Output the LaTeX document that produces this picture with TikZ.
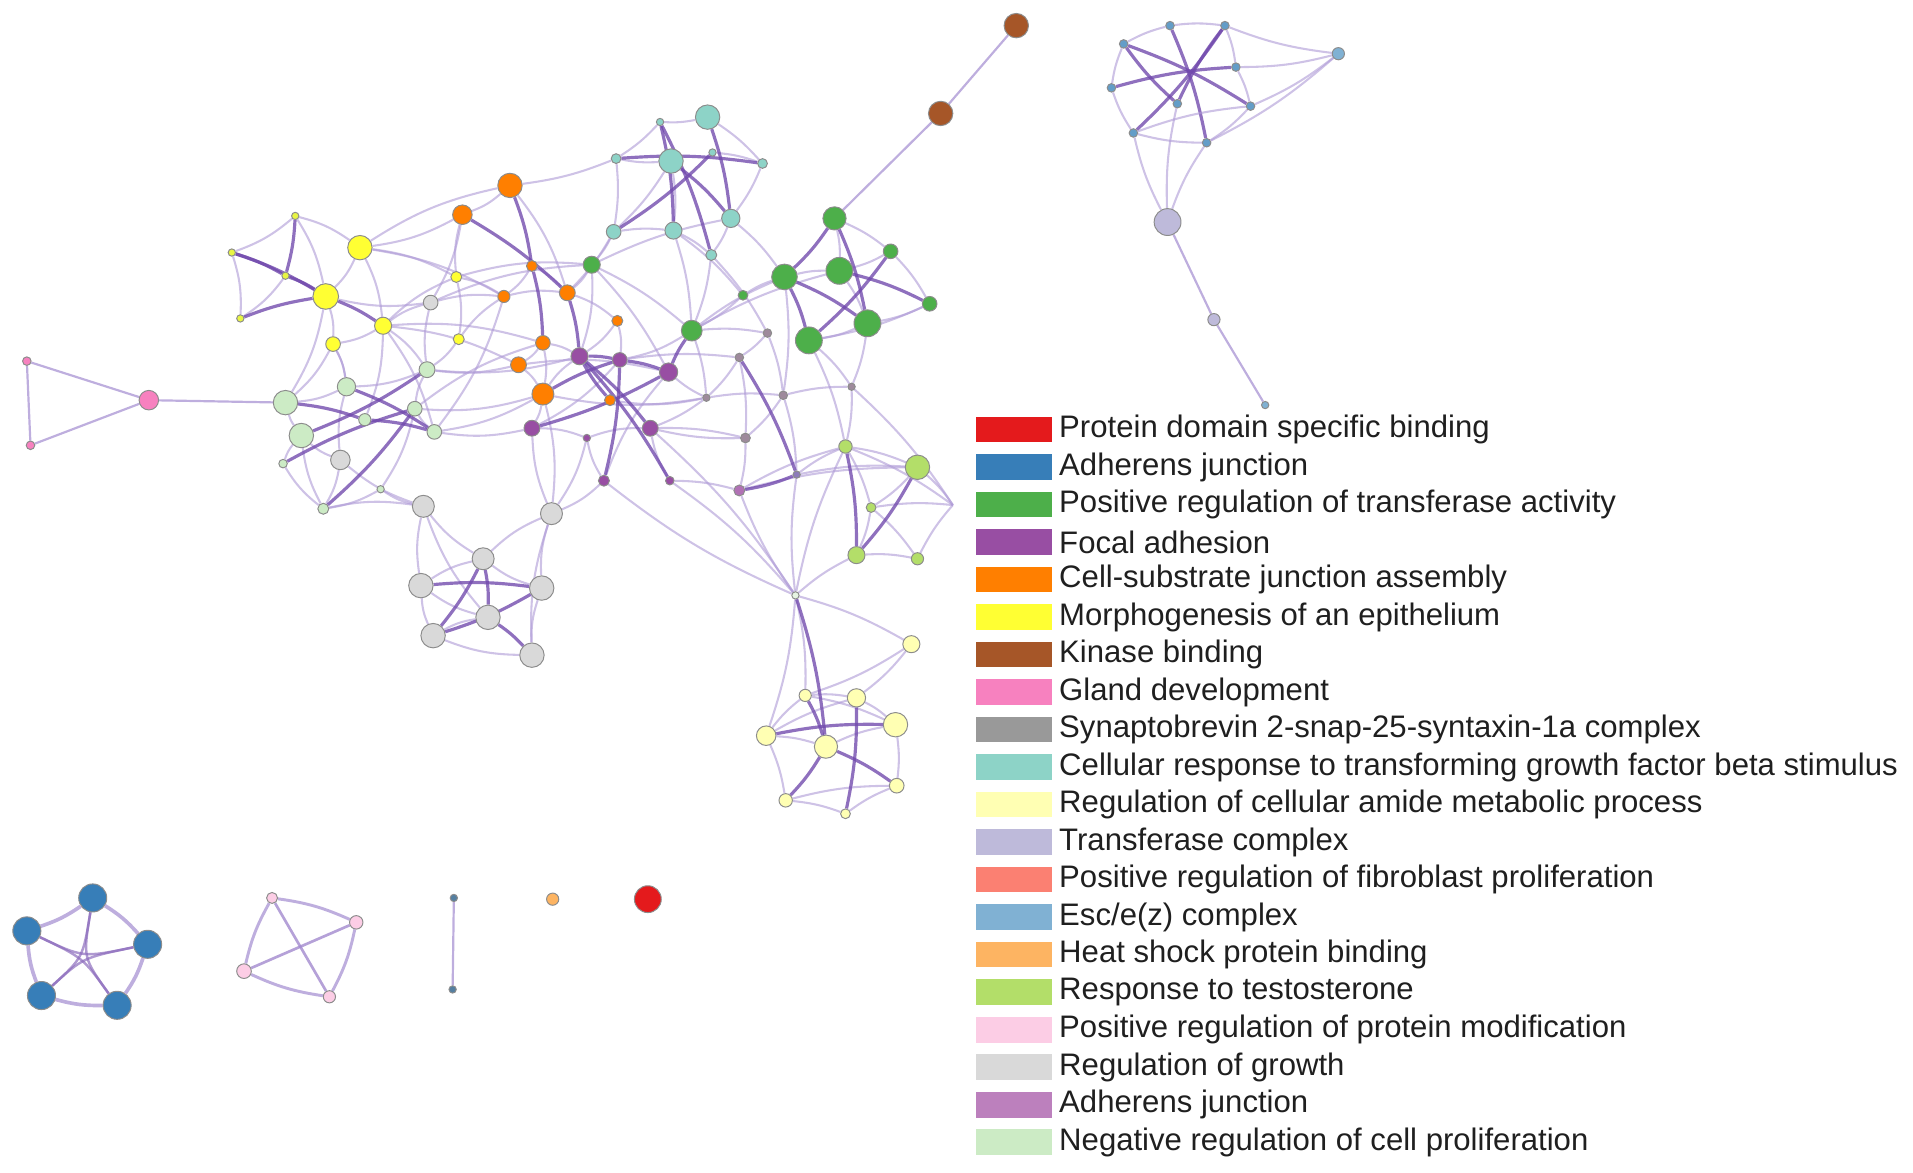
\documentclass[tikz,border=0pt]{standalone}
\usepackage{fontspec}
\setmainfont{Liberation Sans}
\usetikzlibrary{backgrounds}
\definecolor{cRed}{HTML}{E41A1C}
\definecolor{cBlue}{HTML}{377EB8}
\definecolor{cGreen}{HTML}{4DAF4A}
\definecolor{cPurple}{HTML}{984EA3}
\definecolor{cOrange}{HTML}{FF7F00}
\definecolor{cYellow}{HTML}{FFFF33}
\definecolor{cBrown}{HTML}{A65628}
\definecolor{cPink}{HTML}{F781BF}
\definecolor{cGray}{HTML}{999999}
\definecolor{cTeal}{HTML}{8DD3C7}
\definecolor{cLYellow}{HTML}{FFFFB3}
\definecolor{cLav}{HTML}{BEBADA}
\definecolor{cSalmon}{HTML}{FB8072}
\definecolor{cEsc}{HTML}{80B1D3}
\definecolor{cHeat}{HTML}{FDB462}
\definecolor{cLime}{HTML}{B3DE69}
\definecolor{cLPink}{HTML}{FCCDE5}
\definecolor{cLGray}{HTML}{D9D9D9}
\definecolor{cAdh}{HTML}{BC80BD}
\definecolor{cLGreen}{HTML}{CCEBC5}
\definecolor{cMauve}{HTML}{9E8A9C}
\definecolor{eThin}{HTML}{AE9AD6}
\definecolor{eThick}{HTML}{7048AC}
\newcommand\mknode[5]{\node[nd,fill=#2,minimum size=#3pt] (#1) at (#4,#5) {};}
\tikzset{
  nd/.style={circle,inner sep=0pt,draw=black!45,line width=0.8pt},
  eA/.style={draw=eThin,line width=1.7pt,opacity=0.6,bend left=10},
  eB/.style={draw=eThin,line width=1.7pt,opacity=0.6,bend right=10},
  eC/.style={draw=eThin,line width=1.7pt,opacity=0.6,bend left=7},
  eS/.style={draw=eThin,line width=1.8pt,opacity=0.8},
  eT/.style={draw=eThick,line width=2.6pt,opacity=0.78,bend left=6},
  sw/.style={rectangle,inner sep=0pt,minimum width=62pt,minimum height=21pt},
  lab/.style={anchor=west,inner sep=0pt,text=black!88,font=\fontsize{25.5}{30}\selectfont}
}
\begin{document}
\begin{tikzpicture}[x=1pt,y=-1pt]
\useasboundingbox (0,0) rectangle (1568,961);
% gland development
\mknode{p1}{cPink}{7}{22}{296}
\mknode{p2}{cPink}{7}{25}{365}
\mknode{p3}{cPink}{16}{122}{328}
% morphogenesis
\mknode{y1}{cYellow!70!cLime}{6}{242}{177}
\mknode{y2}{cYellow!70!cLime}{6}{190}{207}
\mknode{y3}{cYellow!70!cLime}{6}{234}{226}
\mknode{y4}{cYellow!70!cLime}{6}{197}{261}
\mknode{Y1}{cYellow}{20}{295}{203}
\mknode{Y2}{cYellow}{21}{267}{243}
\mknode{Y3}{cYellow}{14}{314}{267}
\mknode{Y4}{cYellow}{12}{273}{282}
\mknode{Y5}{cYellow}{9}{374}{227}
\mknode{Y6}{cYellow}{9}{376}{278}
% cell-substrate junction assembly
\mknode{O1}{cOrange}{20}{418}{152}
\mknode{O2}{cOrange}{16}{379}{176}
\mknode{O3}{cOrange}{9}{436}{218}
\mknode{O4}{cOrange}{10}{413}{243}
\mknode{O5}{cOrange}{13}{465}{240}
\mknode{O6}{cOrange}{9}{506}{263}
\mknode{O7}{cOrange}{12}{445}{281}
\mknode{O8}{cOrange}{13}{425}{299}
\mknode{O9}{cOrange}{18}{445}{323}
\mknode{O10}{cOrange}{9}{500}{328}
% focal adhesion
\mknode{P1}{cPurple}{14}{475}{292}
\mknode{P2}{cPurple}{12}{508}{295}
\mknode{P3}{cPurple}{15}{548}{305}
\mknode{P4}{cPurple}{13}{436}{351}
\mknode{P5}{cPurple}{13}{533}{351}
\mknode{P6}{cPurple}{6}{481}{359}
\mknode{P7}{cPurple}{9}{495}{394}
\mknode{P8}{cPurple}{7}{549}{394}
% regulation of growth
\mknode{G0}{cLGray}{12}{353}{248}
\mknode{G1}{cLGray}{16}{279}{377}
\mknode{G2}{cLGray}{18}{347}{415}
\mknode{G3}{cLGray}{18}{452}{421}
\mknode{G4}{cLGray}{18}{396}{458}
\mknode{G5}{cLGray}{20}{345}{480}
\mknode{G6}{cLGray}{20}{444}{482}
\mknode{G7}{cLGray}{20}{400}{506}
\mknode{G8}{cLGray}{20}{355}{521}
\mknode{G9}{cLGray}{20}{436}{537}
% negative regulation of cell proliferation
\mknode{L1}{cLGreen}{20}{234}{330}
\mknode{L2}{cLGreen}{15}{284}{317}
\mknode{L3}{cLGreen}{13}{350}{303}
\mknode{L4}{cLGreen}{20}{247}{357}
\mknode{L5}{cLGreen}{10}{299}{344}
\mknode{L6}{cLGreen}{12}{340}{335}
\mknode{L7}{cLGreen}{12}{356}{354}
\mknode{L8}{cLGreen}{9}{265}{417}
\mknode{L9}{cLGreen}{7}{232}{380}
\mknode{L10}{cLGreen}{6}{312}{401}
% TGF beta
\mknode{T1}{cTeal}{20}{580}{96}
\mknode{T2}{cTeal}{20}{550}{132}
\mknode{T3}{cTeal}{6}{541}{100}
\mknode{T4}{cTeal}{6}{584}{125}
\mknode{T5}{cTeal}{8}{505}{130}
\mknode{T6}{cTeal}{8}{625}{134}
\mknode{T7}{cTeal}{12}{503}{190}
\mknode{T8}{cTeal}{14}{552}{189}
\mknode{T9}{cTeal}{15}{599}{179}
\mknode{T10}{cTeal}{9}{583}{209}
% transferase activity
\mknode{N1}{cGreen}{19}{684}{179}
\mknode{N2}{cGreen}{14}{485}{217}
\mknode{N3}{cGreen}{12}{730}{206}
\mknode{N4}{cGreen}{21}{643}{227}
\mknode{N5}{cGreen}{22}{688}{222}
\mknode{N6}{cGreen}{12}{762}{249}
\mknode{N7}{cGreen}{8}{609}{242}
\mknode{N8}{cGreen}{17}{567}{271}
\mknode{N9}{cGreen}{22}{711}{265}
\mknode{N10}{cGreen}{22}{663}{279}
% synaptobrevin etc.
\mknode{M1}{cMauve}{7}{629}{273}
\mknode{M2}{cMauve}{7}{606}{293}
\mknode{M3}{cMauve}{6}{579}{326}
\mknode{M4}{cMauve}{7}{642}{324}
\mknode{M5}{cMauve}{6}{698}{317}
\mknode{M6}{cMauve}{8}{611}{359}
\mknode{Q1}{cPurple!55!cEsc}{6}{653}{389}
\mknode{Q2}{cAdh!70!cPurple}{9}{606}{402}
% response to testosterone
\mknode{K1}{cLime}{11}{693}{366}
\mknode{K2}{cLime}{20}{752}{383}
\mknode{K3}{cLime}{8}{714}{416}
\mknode{K4}{cLime}{14}{702}{455}
\mknode{K5}{cLime}{10}{752}{458}
\coordinate (Kx) at (781,414);
\mknode{H}{cLGreen!50!white}{6}{652}{488}
% amide metabolic process
\mknode{W1}{cLYellow}{14}{747}{528}
\mknode{W2}{cLYellow}{10}{660}{570}
\mknode{W3}{cLYellow}{15}{702}{572}
\mknode{W4}{cLYellow}{20}{734}{594}
\mknode{W5}{cLYellow}{16}{628}{603}
\mknode{W6}{cLYellow}{19}{677}{612}
\mknode{W7}{cLYellow}{12}{735}{644}
\mknode{W8}{cLYellow}{11}{644}{656}
\mknode{W9}{cLYellow}{8}{693}{667}
% kinase binding
\mknode{B1}{cBrown}{20}{833}{21}
\mknode{B2}{cBrown}{20}{771}{93}
% top right cluster
\mknode{A1}{cEsc!60!cBlue}{7}{959}{21}
\mknode{A2}{cEsc!60!cBlue}{7}{1004}{21}
\mknode{A8}{cEsc!60!cBlue}{7}{921}{36}
\mknode{A3}{cEsc!60!cBlue}{7}{1013}{55}
\mknode{A7}{cEsc!60!cBlue}{7}{911}{72}
\mknode{A9}{cEsc!60!cBlue}{7}{965}{85}
\mknode{A4}{cEsc!60!cBlue}{7}{1025}{87}
\mknode{A6}{cEsc!60!cBlue}{7}{929}{109}
\mknode{A5}{cEsc!60!cBlue}{7}{989}{117}
\mknode{A10}{cEsc}{10}{1097}{44}
\mknode{X1}{cLav}{22}{957}{182}
\mknode{X2}{cLav}{10}{995}{262}
\mknode{X3}{cEsc}{6}{1037}{332}
% bottom components
\mknode{D1}{cBlue}{23}{76}{736}
\mknode{D2}{cBlue}{23}{22}{763}
\mknode{D3}{cBlue}{23}{121}{774}
\mknode{D4}{cBlue}{23}{34}{816}
\mknode{D5}{cBlue}{23}{96}{824}
\coordinate (Dc) at (68,785);
\mknode{F1}{cLPink}{9}{223}{736}
\mknode{F2}{cLPink}{11}{292}{756}
\mknode{F3}{cLPink}{12}{200}{796}
\mknode{F4}{cLPink}{10}{270}{817}
\mknode{Z1}{cBlue!60!gray}{6}{372}{736}
\mknode{Z2}{cBlue!60!gray}{6}{371}{811}
\mknode{hs}{cHeat}{10}{453}{737}
\mknode{R}{cRed}{22}{531}{737}

\begin{scope}[on background layer]
\foreach \a/\b in {y1/y2,y2/y4,y1/Y1,y1/Y2,Y1/Y2,Y1/Y3,Y3/Y4,Y2/Y4,Y1/Y5,Y3/Y5,Y5/Y6,Y4/L2,Y3/L3,Y3/G0,Y5/O2,Y6/O4,Y5/O4,Y2/L1,y3/y4,
  O1/O2,O1/O5,O3/O4,O3/O5,O4/O5,O7/O8,O8/O9,O7/O9,O6/P1,O7/P1,O9/P1,O8/P3,O6/P2,O2/Y1,Y1/O4,N2/O5,O5/O6,G0/Y2,G0/O4,Y6/L3,O2/G0,Y3/O8,
  Y5/N2,G0/N2,Y3/O7,L6/O7,Y1/O1}
  \draw[eA] (\a) to (\b);
\foreach \a/\b in {P4/P2,P5/P6,P3/P7,P5/P8,P6/P7,P4/G3,P1/N2,P2/N8,P4/O9,P6/P4,
  G4/G5,G4/G6,G5/G8,G6/G9,G7/G8,G2/G4,G2/G5,G2/G7,G3/G4,G3/G6,G3/G9,G1/G2,G2/L8,G3/O9,G0/L3,G8/G9,G5/G7,
  L1/L2,L1/L4,L2/L3,L3/L6,L6/L7,L4/L8,L4/L9,L8/L10,L9/L8,L10/L6,L2/G1,L4/G1,L8/G1,L1/Y4,L2/Y4,L3/O8,L7/O9,L6/O9,L10/G2,L7/Y3,L5/Y3,G3/P7,L7/O4,
  L3/P1,L7/P4,G3/P6,O9/M3,O10/M3}
  \draw[eB] (\a) to (\b);
\foreach \a/\b in {T1/T3,T1/T6,T3/T5,T5/T7,T7/T8,T8/T10,T9/T10,T6/T9,T2/T7,T2/T5,T7/N2,T8/N7,T9/N4,T10/N8,T7/O5,T5/O1,T4/T6,T2/T8,
  N1/N5,N1/N3,N3/N5,N3/N6,N5/N9,N6/N9,N9/N10,N7/N4,N7/N8,N8/N4,N8/N5,N2/N8,N8/M1,N4/M4,N9/M5,N10/M5,N4/N5,N6/N10,
  M1/M2,M2/M3,M3/M4,M4/M5,M1/M4,M2/M6,M4/M6,M3/P3,M3/P5,M5/K1,M6/Q2,Q2/K2,Q2/K1,P8/Q2,M4/Q1,M6/P5,
  K1/K2,K1/K3,K2/K3,K3/K4,K3/K5,K4/K5,K2/Kx,K5/Kx,K1/Kx,K3/Kx,Q1/K1,Q1/K2,H/K4,H/K1,M5/Kx,
  H/P7,H/Q1,H/Q2,H/W1,H/W2,H/W5,P8/H,P5/H,
  W2/W3,W3/W4,W5/W6,W5/W8,W8/W9,W9/W7,W4/W7,W1/W2,W1/W3,W5/W2,W6/W4,W2/W4,W8/W7,W5/W3,
  N2/P3,P5/M6,N10/K1,N8/M3,T10/M1,N2/T9,T8/N8,P2/M2}
  \draw[eC] (\a) to (\b);
\foreach \a/\b in {y1/y3,y2/y3,y2/Y2,y4/Y2,Y2/Y3,y3/Y2,
  O1/O3,O2/O5,O5/P1,O9/P2,O10/P1,O3/O7,
  P1/P2,P1/P5,P2/P3,P3/P4,P2/P7,P1/P8,
  G4/G7,G5/G6,G4/G8,G7/G9,G6/G8,
  L2/L7,L3/L4,L5/L7,L6/L8,L9/L6,L1/L5,
  T3/T8,T1/T9,T4/T7,T5/T6,T2/T9,T3/T10,
  N1/N4,N1/N9,N4/N10,N5/N6,N3/N10,N4/N9,
  M2/Q1,Q1/Q2,P3/N8,K1/K4,K2/K4,
  H/W6,W2/W6,W3/W9,W5/W4,W6/W8,W6/W7,
  A1/A5,A2/A6,A8/A4,A7/A3,A9/A2,A9/A8}
  \draw[eT] (\a) to (\b);
\foreach \a/\b in {A1/A2,A2/A3,A3/A4,A4/A5,A5/A6,A6/A7,A7/A8,A8/A1,A6/A4,A10/A2,A10/A3,A10/A4,A10/A5,X1/A6,X1/A5,X1/A9}
  \draw[eC] (\a) to (\b);
\foreach \a/\b in {p1/p2,p1/p3,p2/p3,p3/L1,B1/B2,B2/N1,X1/X2,X2/X3,Z1/Z2}
  \draw[eS] (\a) -- (\b);
% blue pentagon
\foreach \a/\b in {D1/D2,D1/D3,D3/D5,D5/D4,D4/D2}
  \draw[draw=eThin,line width=3pt,opacity=0.8] (\a) to[bend left=8] (\b);
\foreach \a/\b in {D1/D4,D1/D5,D2/D3,D2/D5,D3/D4}
  \draw[draw=eThick!80,line width=2pt,opacity=0.7] (\a) .. controls (Dc) .. (\b);
% light pink quad
\foreach \a/\b in {F1/F2,F2/F4,F4/F3,F3/F1}
  \draw[draw=eThin,line width=2.4pt,opacity=0.8] (\a) to[bend left=8] (\b);
\foreach \a/\b in {F1/F4,F3/F2}
  \draw[draw=eThin!80!eThick,line width=2.2pt,opacity=0.8] (\a) -- (\b);
\end{scope}

% legend
\node[sw,fill=cRed] (s1) at (831,352.0) {};
\node[lab] (l1) at (868,352.0) {Protein domain specific binding};
\node[sw,fill=cBlue] (s2) at (831,382.75) {};
\node[lab] (l2) at (868,382.75) {Adherens junction};
\node[sw,fill=cGreen] (s3) at (831,413.5) {};
\node[lab] (l3) at (868,413.5) {Positive regulation of transferase activity};
\node[sw,fill=cPurple] (s4) at (831,444.25) {};
\node[lab] (l4) at (868,444.25) {Focal adhesion};
\node[sw,fill=cOrange] (s5) at (831,475.0) {};
\node[lab] (l5) at (868,475.0) {Cell-substrate junction assembly};
\node[sw,fill=cYellow] (s6) at (831,505.75) {};
\node[lab] (l6) at (868,505.75) {Morphogenesis of an epithelium};
\node[sw,fill=cBrown] (s7) at (831,536.5) {};
\node[lab] (l7) at (868,536.5) {Kinase binding};
\node[sw,fill=cPink] (s8) at (831,567.25) {};
\node[lab] (l8) at (868,567.25) {Gland development};
\node[sw,fill=cGray] (s9) at (831,598.0) {};
\node[lab] (l9) at (868,598.0) {Synaptobrevin 2-snap-25-syntaxin-1a complex};
\node[sw,fill=cTeal] (s10) at (831,628.75) {};
\node[lab] (l10) at (868,628.75) {Cellular response to transforming growth factor beta stimulus};
\node[sw,fill=cLYellow] (s11) at (831,659.5) {};
\node[lab] (l11) at (868,659.5) {Regulation of cellular amide metabolic process};
\node[sw,fill=cLav] (s12) at (831,690.25) {};
\node[lab] (l12) at (868,690.25) {Transferase complex};
\node[sw,fill=cSalmon] (s13) at (831,721.0) {};
\node[lab] (l13) at (868,721.0) {Positive regulation of fibroblast proliferation};
\node[sw,fill=cEsc] (s14) at (831,751.75) {};
\node[lab] (l14) at (868,751.75) {Esc/e(z) complex};
\node[sw,fill=cHeat] (s15) at (831,782.5) {};
\node[lab] (l15) at (868,782.5) {Heat shock protein binding};
\node[sw,fill=cLime] (s16) at (831,813.25) {};
\node[lab] (l16) at (868,813.25) {Response to testosterone};
\node[sw,fill=cLPink] (s17) at (831,844.0) {};
\node[lab] (l17) at (868,844.0) {Positive regulation of protein modification};
\node[sw,fill=cLGray] (s18) at (831,874.75) {};
\node[lab] (l18) at (868,874.75) {Regulation of growth};
\node[sw,fill=cAdh] (s19) at (831,905.5) {};
\node[lab] (l19) at (868,905.5) {Adherens junction};
\node[sw,fill=cLGreen] (s20) at (831,936.25) {};
\node[lab] (l20) at (868,936.25) {Negative regulation of cell proliferation};
\end{tikzpicture}
\end{document}
